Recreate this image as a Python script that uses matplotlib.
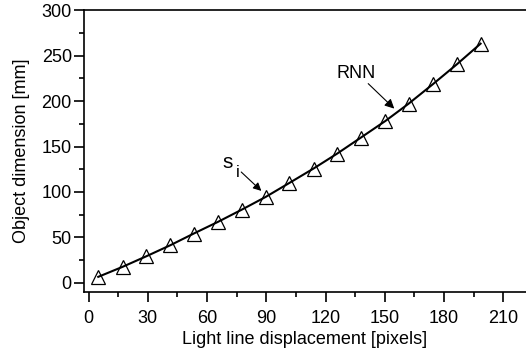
import matplotlib
matplotlib.use("Agg")
import matplotlib.pyplot as plt
from matplotlib.ticker import MultipleLocator

plt.rcParams['font.family'] = ['Liberation Sans', 'DejaVu Sans']

# measured points (light line displacement vs object dimension)
displacement = [4.9, 17.2, 29.3, 41.4, 53.3, 65.5, 77.7, 89.7, 101.7, 113.9,
                125.9, 137.9, 150.3, 162.1, 174.3, 186.5, 198.5]
dimension = [6.6, 17.6, 29.3, 41.4, 54.3, 67.1, 80.7, 94.6, 110.0, 125.8,
             142.3, 159.9, 178.2, 197.3, 218.6, 240.6, 263.3]

fig = plt.figure(figsize=(5.26, 3.56), dpi=100)
ax = fig.add_axes([0.159, 0.180, 0.841, 0.791])

# RNN curve and the s_i points
ax.plot(displacement, dimension, color='black', lw=1.5, zorder=2)
ax.plot(displacement, dimension, linestyle='none', marker='^', markersize=9.5,
        markerfacecolor='none', markeredgecolor='black', markeredgewidth=0.9, zorder=3)

ax.set_xlim(-2.5, 221.5)
ax.set_ylim(-10, 300)
ax.xaxis.set_major_locator(MultipleLocator(30))
ax.xaxis.set_minor_locator(MultipleLocator(15))
ax.yaxis.set_major_locator(MultipleLocator(50))
ax.yaxis.set_minor_locator(MultipleLocator(25))
ax.tick_params(which='both', direction='out', top=False, right=False,
               labelsize=13, width=1.2, color='black')
ax.tick_params(which='major', length=7)
ax.tick_params(which='minor', length=3.6)
ax.tick_params(axis='x', which='major', pad=6)
ax.tick_params(axis='y', which='major', pad=1.5)
ax.spines['right'].set_visible(False)
for s in ['left', 'top', 'bottom']:
    ax.spines[s].set_linewidth(1.2)

ax.set_xlabel('Light line displacement [pixels]', fontsize=13, labelpad=3)
ax.set_ylabel('Object dimension [mm]', fontsize=13, labelpad=8)

# annotations
ax.text(135.7, 230, 'RNN', fontsize=13, ha='center', va='center')
ax.annotate('', xy=(154.8, 191.8), xytext=(141.6, 219.3),
            arrowprops=dict(arrowstyle='-|>', color='black', lw=0.8,
                            mutation_scale=14, shrinkA=0, shrinkB=0))
ax.text(70.2, 133, 's', fontsize=15, ha='center', va='center')
ax.text(75.6, 121, 'i', fontsize=12, ha='center', va='center')
ax.annotate('', xy=(87.5, 101.2), xytext=(77.3, 122),
            arrowprops=dict(arrowstyle='-|>', color='black', lw=0.8,
                            mutation_scale=12, shrinkA=0, shrinkB=0))

fig.savefig('out.png', dpi=100)
